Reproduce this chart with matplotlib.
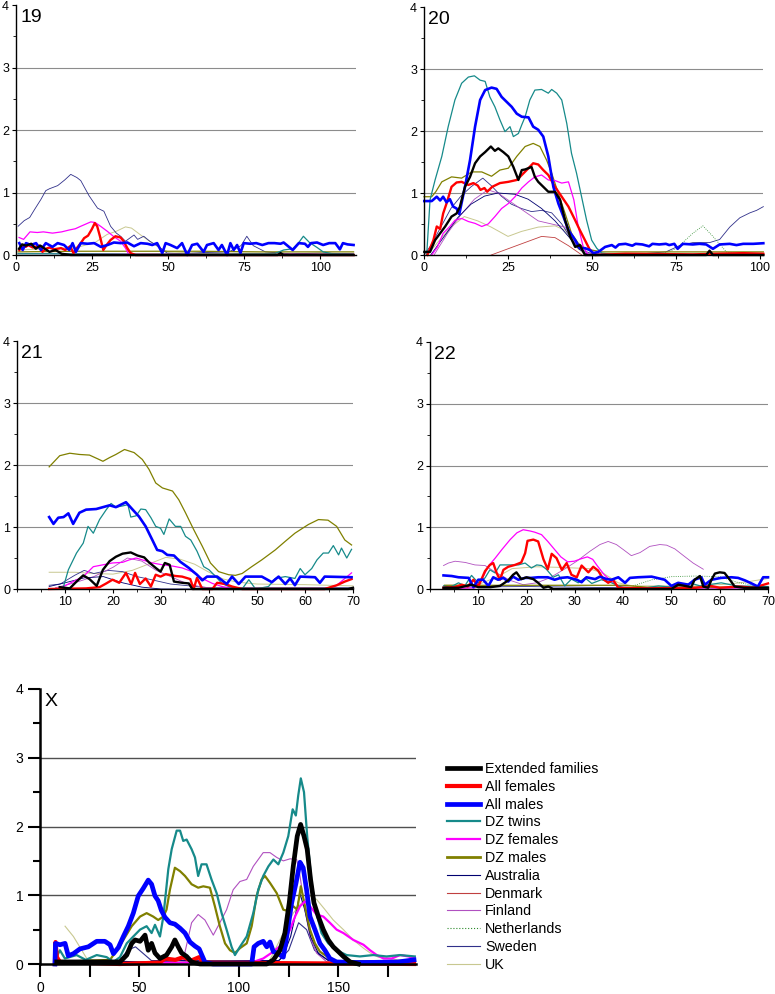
import numpy as np
import matplotlib
matplotlib.use("Agg")
import matplotlib.pyplot as plt
from matplotlib.lines import Line2D
from matplotlib.ticker import MultipleLocator

plt.rcParams['font.family'] = ['Liberation Sans', 'DejaVu Sans']

# legend order / series names
series_names = ["Extended families", "All females", "All males", "DZ twins", "DZ females",
                "DZ males", "Australia", "Denmark", "Finland", "Netherlands", "Sweden", "UK"]

# ---------------- chromosome 19 ----------------
sweden19 = [(0.7,0.46),(2.7,0.55),(4.5,0.6),(6.0,0.72),(8.2,0.89),(9.8,1.03),(11,1.06),(13.7,1.11),(16,1.2),
            (18,1.29),(20,1.24),(21.3,1.19),(24,0.95),(26.8,0.75),(28.9,0.7),(31.1,0.46),(33,0.35),(34.4,0.3),
            (36,0.22),(38.8,0.32),(40,0.25),(42,0.3),(44,0.22),(46.4,0.15),(49.7,0.03),(55,0.02),(62,0.04),
            (70,0.05),(74,0.15),(75.9,0.3),(78,0.15),(82,0.05),(90,0.02),(100,0.03),(111,0.02)]
magenta19 = [(1,0.28),(2.5,0.25),(4.6,0.37),(7,0.36),(9,0.37),(12,0.35),(15,0.37),(17.5,0.4),(19.5,0.42),
             (21.3,0.46),(24.6,0.53),(26,0.52),(27.8,0.46),(30,0.38),(32,0.3),(34.4,0.22),(36,0.11),(37.2,0.0),(111,0.0)]
red19 = [(1.1,0.08),(2.2,0.14),(3.2,0.13),(4.0,0.16),(5.5,0.12),(7.7,0.15),(8.7,0.05),(9.8,0.1),(11.0,0.12),
         (12.5,0.09),(14.8,0.11),(16.2,0.08),(17.8,0.14),(18.9,0.03),(20,0.11),(21.3,0.19),(22.4,0.27),(23.7,0.31),
         (24.9,0.41),(25.9,0.51),(26.7,0.46),(27.6,0.3),(28.7,0.08),(29.8,0.16),(31.1,0.24),(32.7,0.3),(34.4,0.28),
         (35.4,0.22),(36.6,0.11),(37.7,0.03),(39.3,0.0),(111,0.0)]
blue19 = [(1.1,0.19),(2.2,0.08),(3.3,0.19),(4.9,0.16),(6.6,0.19),(8.2,0.08),(9.8,0.19),(12.0,0.13),(13.7,0.19),
          (15.8,0.16),(17.5,0.08),(18.6,0.19),(19.7,0.05),(21.3,0.19),(23.5,0.18),(25.7,0.19),(27.9,0.13),(30.1,0.16),
          (32.2,0.2),(34.4,0.19),(36.6,0.2),(38.8,0.14),(41.0,0.19),(43.2,0.18),(44.8,0.16),(46.4,0.19),(48.1,0.03),
          (49.2,0.19),(50.8,0.16),(53.0,0.11),(54.6,0.19),(56.3,0.0),(57.9,0.16),(59.6,0.18),(61.7,0.05),(62.8,0.16),
          (65.0,0.19),(66.6,0.08),(67.7,0.16),(69.4,0.0),(70.5,0.19),(71.6,0.08),(72.7,0.16),(73.8,0.03),(74.9,0.19),
          (77,0.18),(79,0.19),(81,0.16),(83,0.19),(85,0.19),(87,0.18),(88,0.2),(89,0.16),(91,0.08),(93,0.19),
          (95,0.18),(96,0.13),(97,0.19),(99,0.2),(101,0.16),(103,0.19),(105,0.19),(106.5,0.09),(107.5,0.19),
          (109,0.17),(111,0.16)]
black19 = [(1,0.1),(2,0.17),(3.3,0.15),(5,0.18),(6.5,0.1),(8,0.15),(9.5,0.1),(11,0.05),(13,0.08),(15,0.02),
           (18,0.0),(86,0.0),(87,0.03),(88,0.0),(111,0.0)]
teal19 = [(0.7,0.02),(10,0.02),(40,0.01),(85,0.02),(88,0.08),(91,0.1),(93,0.2),(94.5,0.3),(96.5,0.2),(99,0.12),
          (101,0.05),(104,0.02),(111,0.01)]
uk19 = [(0.7,0.08),(10,0.1),(20,0.12),(26,0.2),(30,0.33),(33,0.38),(36,0.45),(38,0.43),(41,0.32),(44,0.22),
        (47,0.12),(50,0.05),(60,0.03),(111,0.02)]
olive19 = [(0.7,0.05),(20,0.06),(40,0.06),(60,0.06),(80,0.05),(111,0.05)]
finland19 = [(0.7,0.02),(30,0.02),(111,0.01)]

# ---------------- chromosome 20 ----------------
teal20 = [(0.8,0.0),(1.8,0.89),(3.3,1.21),(5.3,1.59),(7.2,2.07),(9.2,2.5),(11.2,2.77),(13.2,2.87),(15.0,2.89),
          (16.7,2.82),(18.2,2.8),(19.6,2.55),(21.1,2.39),(22.6,2.18),(24.1,1.99),(25.6,2.07),(26.6,1.91),(28.1,1.96),
          (29.1,2.1),(30.1,2.23),(31.5,2.5),(33.0,2.66),(35.0,2.67),(37.0,2.61),(38.0,2.67),(39.5,2.61),(41.0,2.5),
          (42.5,2.12),(43.9,1.64),(45.4,1.32),(46.9,0.94),(48.4,0.56),(49.9,0.24),(51.4,0.11),(52.9,0.03),(58,0.0),(101,0.0)]
blue20 = [(0.1,0.87),(2.3,0.87),(3.8,0.94),(4.8,0.88),(5.7,0.94),(6.7,0.85),(7.7,0.9),(8.7,0.78),(9.7,0.75),
          (10.5,0.66),(12.2,1.1),(13.7,1.53),(15.2,2.07),(16.7,2.5),(18.2,2.66),(20.1,2.7),(21.6,2.68),(23.1,2.55),
          (24.6,2.47),(26.1,2.39),(27.6,2.28),(29.1,2.23),(31.1,2.22),(32.5,2.07),(34.0,2.02),(35.5,1.91),(37.0,1.59),
          (38.5,1.1),(40.0,0.83),(41.5,0.62),(43.0,0.4),(45.0,0.24),(46.4,0.11),(47.9,0.11),(49.4,0.08),(50.4,0.03),
          (51.9,0.05),(53.9,0.13),(55.9,0.16),(57,0.12),(58,0.17),(60,0.18),(62,0.15),(63,0.18),(65,0.17),(67,0.14),
          (68,0.18),(70,0.17),(72,0.18),(73,0.16),(74.5,0.18),(75.5,0.1),(77,0.18),(80,0.17),(82,0.18),(84,0.17),
          (86,0.1),(88,0.17),(91,0.18),(93,0.16),(95,0.18),(98,0.18),(101,0.19)]
black20 = [(0.1,0.05),(1.8,0.05),(3.3,0.24),(4.8,0.35),(6.3,0.46),(8.2,0.62),(9.7,0.67),(10.7,0.78),(12.2,1.1),
           (13.7,1.26),(15.2,1.48),(16.7,1.59),(18.2,1.66),(19.9,1.75),(21.1,1.68),(22.1,1.72),(23.6,1.66),(25.1,1.59),
           (26.6,1.42),(28.1,1.21),(29.1,1.37),(30.1,1.38),(32.0,1.42),(33.0,1.26),(34.0,1.18),(35.5,1.1),(37.0,1.02),
           (39.0,1.02),(40.5,0.89),(42.0,0.56),(43.5,0.3),(45.0,0.13),(46.4,0.16),(47.9,0.0),(84,0.0),(85,0.07),
           (86,0.0),(101,0.0)]
red20 = [(1.0,0.0),(2.8,0.24),(3.8,0.46),(4.8,0.42),(5.7,0.67),(6.7,0.83),(8.2,1.1),(9.7,1.17),(11.2,1.18),
         (13.2,1.13),(14.7,1.16),(16.0,1.12),(16.8,1.05),(18.0,1.08),(18.8,1.02),(20.3,1.1),(22.6,1.16),(25.1,1.18),
         (27.6,1.21),(29.1,1.29),(31.1,1.4),(32.5,1.48),(34.0,1.46),(35.5,1.37),(37.0,1.29),(39.0,1.1),(41.0,0.94),
         (43.0,0.78),(45.0,0.56),(46.4,0.4),(47.9,0.24),(49.4,0.08),(50.9,0.0),(60,0.02),(80,0.01),(95,0.03),(101,0.02)]
olive20 = [(0,0.94),(2.3,0.94),(3.5,1.02),(5.3,1.18),(8.2,1.26),(11.2,1.24),(14.2,1.34),(17.2,1.34),(20.1,1.27),
           (22.6,1.37),(25.1,1.4),(27.6,1.59),(30.1,1.75),(32.5,1.8),(34.5,1.75),(36.5,1.53),(38.0,1.32),(40.0,0.99),
           (42.0,0.67),(43.9,0.35),(45.9,0.19),(47.9,0.11),(49.9,0.08),(52.9,0.05),(101,0.05)]
magenta20 = [(2.3,0.0),(4.0,0.13),(5.7,0.35),(7.7,0.46),(9.2,0.56),(11.2,0.59),(13.2,0.54),(15.2,0.51),(17.2,0.46),
             (19.1,0.5),(21.1,0.62),(23.1,0.75),(25.1,0.83),(27.1,0.94),(29.1,1.08),(31.1,1.18),(33.0,1.26),(35.0,1.29),
             (37.0,1.21),(39.0,1.2),(41.0,1.16),(43.0,1.18),(44.6,0.89),(45.9,0.46),(47.4,0.13),(48.9,0.0),(101,0.0)]
sweden20 = [(0,0.0),(2,0.15),(5,0.45),(8,0.75),(11,0.95),(14,1.1),(17.5,1.24),(20,1.12),(23,0.95),(26,0.82),
            (29,0.75),(32,0.7),(35,0.72),(38,0.68),(41,0.5),(44,0.25),(47,0.08),(50,0.02),(60,0.0),(72,0.05),
            (76,0.15),(80,0.2),(85,0.2),(88,0.25),(91,0.45),(94,0.6),(97,0.68),(99,0.72),(101,0.78)]
australia20 = [(2,0.0),(6,0.3),(10,0.6),(14,0.82),(18,0.95),(22,1.0),(27,0.98),(31,0.9),(35,0.75),(39,0.55),
               (43,0.3),(46,0.1),(49,0.0),(101,0.0)]
finland20 = [(3,0.0),(7,0.35),(11,0.65),(15,0.9),(19,1.05),(22,1.0),(26,0.85),(30,0.7),(34,0.55),(38,0.5),
             (42,0.45),(45,0.2),(48,0.02),(101,0.0)]
uk20 = [(1,0.0),(4,0.2),(8,0.45),(12,0.62),(16,0.55),(20,0.45),(25,0.3),(29,0.38),(34,0.45),(39,0.47),(42,0.4),
        (45,0.15),(48,0.0),(101,0.0)]
denmark20 = [(20,0.0),(25,0.1),(30,0.2),(35,0.3),(39,0.28),(43,0.15),(47,0.0)]
netherlands20 = [(70,0.0),(75,0.1),(80,0.35),(83,0.47),(86,0.3),(90,0.05),(95,0.0)]

# ---------------- chromosome 21 ----------------
olive21 = [(6.7,1.97),(8.9,2.15),(11.0,2.19),(13.0,2.17),(15.1,2.16),(16.8,2.1),(17.9,2.06),(19.3,2.12),(20.6,2.17),
           (22.4,2.25),(24.4,2.2),(26.1,2.09),(27.5,1.93),(28.9,1.71),(30.3,1.63),(32.4,1.58),(33.7,1.44),(35.1,1.23),
           (36.8,0.96),(38.6,0.69),(40.3,0.42),(42.0,0.28),(44.1,0.23),(45.5,0.22),(46.9,0.25),(48.9,0.36),(51.0,0.47),
           (53.8,0.63),(55.9,0.77),(57.9,0.9),(60.7,1.04),(62.8,1.12),(64.8,1.11),(66.6,1.01),(68.3,0.79),(69.7,0.71)]
blue21 = [(6.7,1.16),(7.6,1.05),(8.6,1.15),(9.7,1.16),(10.7,1.22),(11.7,1.05),(13.0,1.23),(14.4,1.28),(16.5,1.29),
          (17.9,1.32),(19.3,1.35),(20.6,1.32),(22.7,1.4),(24.1,1.28),(25.4,1.17),(26.8,1.01),(28.2,0.79),(29.2,0.63),
          (30.3,0.61),(31.3,0.55),(32.7,0.54),(34.0,0.44),(35.8,0.34),(37.5,0.23),(38.6,0.14),(39.6,0.2),(41.7,0.2),
          (43.7,0.08),(44.8,0.2),(46.2,0.08),(47.6,0.2),(51.0,0.2),(53.1,0.11),(54.5,0.2),(55.9,0.08),(56.9,0.17),
          (57.9,0.06),(59.0,0.2),(62.1,0.19),(63.1,0.1),(64.1,0.2),(69.7,0.19)]
teal21 = [(9.7,0.04),(10.7,0.31),(12.4,0.58),(13.8,0.74),(14.8,1.01),(15.9,0.9),(17.2,1.12),(18.6,1.28),(19.6,1.38),
          (20.6,1.32),(22.0,1.34),(23.1,1.36),(23.7,1.16),(24.8,1.18),(25.8,1.29),(26.8,1.28),(27.9,1.15),(28.9,1.01),
          (29.9,0.98),(30.6,0.88),(31.7,1.13),(33.0,1.01),(34.1,1.01),(35.1,0.85),(36.2,0.79),(37.5,0.61),(38.9,0.36),
          (40.0,0.31),(41.4,0.2),(42.7,0.09),(44.1,0.04),(46.9,0.0),(48.3,0.15),(49.7,0.0),(52.4,0.04),(53.8,0.17),
          (55.9,0.2),(57.9,0.17),(59.0,0.33),(60.0,0.23),(61.4,0.33),(62.5,0.47),(63.8,0.58),(64.9,0.58),(65.9,0.7),
          (67.0,0.55),(67.6,0.66),(68.7,0.5),(69.7,0.64)]
black21 = [(8.9,0.03),(11.0,0.01),(12.4,0.12),(13.8,0.22),(15.1,0.16),(16.6,0.05),(17.9,0.31),(19.3,0.45),(20.6,0.52),
           (22.0,0.57),(23.7,0.59),(25.1,0.54),(26.5,0.51),(27.5,0.43),(28.9,0.34),(29.9,0.28),(30.8,0.42),(31.8,0.39),
           (32.7,0.12),(34.4,0.1),(35.8,0.09),(36.5,0.0),(69,0.0),(70,0.02)]
red21 = [(6.7,0.0),(14.4,0.01),(17.2,0.03),(18.6,0.09),(19.9,0.15),(21.3,0.1),(22.7,0.26),(23.8,0.08),(24.6,0.26),
         (25.6,0.08),(26.8,0.17),(27.9,0.04),(28.9,0.23),(29.9,0.2),(31.0,0.24),(33.0,0.21),(34.4,0.2),(36.1,0.16),
         (36.8,0.0),(37.5,0.18),(38.6,0.0),(40.7,0.0),(41.7,0.1),(43.4,0.08),(44.8,0.04),(46.9,0.0),(64.1,0.0),
         (66.6,0.06),(68.3,0.12),(69.7,0.16)]
magenta21 = [(8.3,0.0),(9.7,0.04),(11.7,0.12),(13.8,0.2),(15.9,0.36),(17.9,0.39),(19.9,0.42),(22.0,0.43),(23.4,0.47),
             (24.8,0.5),(26.1,0.47),(28.2,0.42),(30.3,0.39),(32.4,0.37),(34.4,0.34),(36.5,0.28),(38.6,0.17),(40.7,0.09),
             (42.7,0.04),(45.5,0.0),(64.1,0.0),(66.6,0.06),(68.3,0.17),(69.7,0.26)]
uk21 = [(6.7,0.27),(12,0.27),(16,0.25),(20,0.24),(24,0.3),(28,0.42),(31,0.51),(34,0.48),(37,0.4),(40,0.27),
        (43,0.16),(46,0.11),(50,0.08),(60,0.07),(70,0.05)]
sweden21 = [(6.7,0.06),(9,0.08),(12,0.22),(14,0.3),(16,0.25),(19,0.3),(22,0.28),(25,0.2),(28,0.15),(32,0.08),
            (36,0.05),(40,0.02),(70,0.02)]
finland21 = [(8,0.02),(12,0.1),(16,0.2),(20,0.35),(23,0.5),(26,0.45),(29,0.3),(32,0.2),(35,0.1),(38,0.04),(42,0.0),(70,0.0)]
australia21 = [(6.7,0.04),(10,0.1),(14,0.18),(18,0.2),(22,0.1),(26,0.03),(30,0.0),(70,0.0)]

# ---------------- chromosome 22 ----------------
magenta22 = [(2.8,0.0),(9.3,0.02),(10.7,0.15),(12.1,0.37),(13.5,0.5),(14.9,0.64),(16.6,0.8),(18.0,0.91),(19.3,0.96),
             (20.7,0.94),(21.7,0.92),(23.1,0.88),(24.4,0.77),(25.8,0.64),(27.1,0.52),(28.5,0.44),(29.9,0.45),(31.3,0.49),
             (32.6,0.52),(33.7,0.48),(34.7,0.37),(36.1,0.23),(37.4,0.14),(38.8,0.05),(40.2,0.02),(45,0.0),(70,0.0)]
red22 = [(2.8,0.02),(5.2,0.03),(6.6,0.07),(7.8,0.04),(9.0,0.15),(10.0,0.04),(11.4,0.29),(12.4,0.39),(13.1,0.42),
         (13.8,0.26),(14.5,0.15),(15.2,0.31),(16.2,0.36),(17.6,0.39),(18.9,0.43),(19.7,0.58),(20.2,0.78),(21.4,0.8),
         (22.4,0.77),(23.5,0.48),(24.4,0.32),(25.2,0.57),(26.2,0.5),(27.3,0.31),(28.3,0.42),(29.3,0.23),(30.4,0.19),
         (31.4,0.38),(32.8,0.27),(33.8,0.36),(34.8,0.3),(35.9,0.16),(36.9,0.1),(37.9,0.15),(39.0,0.02),(45,0.01),
         (55,0.02),(58.1,0.05),(60,0.02),(64,0.04),(67,0.02),(70,0.09)]
blue22 = [(2.8,0.22),(4.5,0.21),(5.9,0.19),(8.0,0.18),(9.0,0.03),(10.0,0.15),(11.0,0.15),(12.1,0.05),(13.1,0.19),
          (14.1,0.15),(15.2,0.18),(16.2,0.12),(17.2,0.2),(18.3,0.15),(19.7,0.18),(21.0,0.18),(22.4,0.19),(24.4,0.19),
          (25.8,0.15),(27.1,0.18),(28.5,0.19),(30.4,0.15),(31.4,0.11),(32.4,0.19),(34.2,0.16),(35.2,0.2),(36.6,0.16),
          (37.6,0.15),(39.0,0.19),(40.4,0.1),(41.4,0.18),(43.1,0.19),(45.9,0.2),(48.6,0.15),(50.0,0.05),(51.4,0.1),
          (53.5,0.07),(54.8,0.15),(56.2,0.19),(56.9,0.07),(58.3,0.15),(60.3,0.18),(62.4,0.19),(63.8,0.18),(65.2,0.14),
          (66.6,0.09),(67.9,0.04),(69.0,0.19),(70.0,0.19)]
teal22 = [(2.8,0.05),(4.2,0.03),(5.9,0.1),(7.2,0.05),(8.6,0.22),(10.0,0.1),(11.4,0.18),(12.4,0.31),(13.5,0.26),
          (14.5,0.39),(16.6,0.39),(18.3,0.39),(19.7,0.42),(21.0,0.34),(22.1,0.39),(23.1,0.38),(24.1,0.32),(25.5,0.19),
          (26.6,0.23),(27.9,0.05),(29.3,0.16),(30.7,0.1),(32.1,0.18),(33.5,0.09),(35.5,0.15),(37.6,0.1),(39.7,0.03),
          (44,0.01),(47.3,0.05),(50,0.03),(54.1,0.09),(56,0.05),(60.3,0.1),(63.5,0.05),(70,0.04)]
black22 = [(2.8,0.02),(5.9,0.02),(8.6,0.07),(10,0.03),(12.5,0.03),(14.5,0.05),(16.2,0.14),(17.2,0.23),(17.9,0.27),
           (18.9,0.16),(20.0,0.19),(21.4,0.16),(22.4,0.1),(23.5,0.02),(24.5,0.04),(25.5,0.0),(50,0.0),(51.4,0.07),
           (52.8,0.05),(54.1,0.03),(54.8,0.15),(55.9,0.21),(56.6,0.04),(57.6,0.02),(58.3,0.15),(59.0,0.25),(60.0,0.27),
           (61.0,0.26),(62.1,0.15),(63.1,0.04),(65,0.02),(70,0.02)]
finland22 = [(2.8,0.38),(3.8,0.42),(5.2,0.45),(7.3,0.43),(9.3,0.39),(11.4,0.38),(13.8,0.26),(16.6,0.14),(19.3,0.07),
             (22.1,0.1),(24.8,0.18),(27.6,0.31),(30.4,0.45),(33.1,0.61),(35.2,0.72),(36.9,0.77),(38.6,0.72),(40.0,0.64),
             (41.7,0.54),(43.5,0.59),(45.5,0.69),(47.6,0.72),(49.0,0.71),(50.7,0.65),(52.5,0.54),(54.5,0.42),(56.6,0.32)]
uk22 = [(3,0.06),(10,0.07),(14,0.2),(17,0.33),(22,0.36),(27,0.35),(33,0.33),(36,0.25),(39,0.1),(42,0.05),(55,0.05),
        (62,0.08),(66,0.12),(70,0.17)]
netherlands22 = [(42,0.05),(46,0.15),(50,0.2),(55,0.21),(60,0.2),(64,0.1),(68,0.05)]
olive22 = [(3,0.06),(40,0.06),(45,0.03),(70,0.03)]
sweden22 = [(3,0.03),(20,0.04),(40,0.02),(70,0.02)]

# ---------------- chromosome X ----------------
teal_x = [(7.6,0.06),(10.0,0.2),(12.5,0.08),(18.4,0.13),(23,0.06),(28.5,0.13),(33.5,0.1),(36.9,0.03),(40.2,0.1),
          (43.6,0.3),(46.9,0.4),(50.3,0.5),(53.6,0.55),(56.1,0.45),(57.8,0.57),(60.3,0.4),(62.0,0.69),(64.5,1.38),
          (66.2,1.67),(68.7,1.94),(70.4,1.94),(72.0,1.79),(73.7,1.81),(76.2,1.67),(77.9,1.55),(79.5,1.28),(81.2,1.45),
          (83.7,1.45),(86.2,1.23),(88.8,1.03),(91.3,0.74),(93.8,0.5),(96.3,0.25),(98.0,0.13),(100.5,0.25),(103.9,0.4),
          (107.2,0.74),(109.7,1.08),(112.2,1.28),(114.8,1.42),(117.3,1.52),(119.8,1.45),(122.3,1.62),(124.8,1.86),
          (127.0,2.25),(128.6,2.16),(129.8,2.45),(131.1,2.7),(132.7,2.5),(134.3,1.86),(136.5,1.18),(139.0,0.74),
          (141.5,0.45),(144.9,0.3),(149.1,0.2),(154.1,0.13),(160.8,0.11),(167.5,0.13),(174.2,0.11),(180.9,0.13),
          (188.4,0.11)]
blue_x = [(7.5,0.0),(7.8,0.3),(10,0.28),(12.6,0.3),(14.2,0.12),(16.8,0.15),(20.1,0.22),(24.3,0.25),(28.5,0.33),
          (32.6,0.33),(35.2,0.28),(36.9,0.15),(39.4,0.24),(41.9,0.4),(44.4,0.55),(46.9,0.74),(49.4,0.99),(51.9,1.1),
          (54.4,1.22),(56.1,1.16),(57.8,0.99),(59.4,0.92),(61,0.78),(62.8,0.68),(65.3,0.6),(67.8,0.58),(70.4,0.52),
          (72.9,0.45),(75.4,0.32),(77.9,0.26),(80,0.22),(81.5,0.12),(83,0.02),(87,0.0),(106.4,0.0),(107.6,0.25),
          (109.7,0.3),(112.2,0.33),(114.0,0.25),(115.6,0.32),(117.3,0.18),(119.8,0.15),(122.3,0.1),(124.0,0.4),
          (126.5,0.89),(128.7,1.18),(130.7,1.48),(132.3,1.4),(134.0,1.08),(135.7,0.69),(138.2,0.5),(140.7,0.3),
          (143.2,0.2),(145.7,0.08),(149.1,0.03),(160,0.02),(180,0.03),(188,0.06)]
black_x = [(8.4,0.03),(40.2,0.03),(43.6,0.13),(46.1,0.3),(47.8,0.35),(50.3,0.33),(52.8,0.42),(54.4,0.2),(56.1,0.3),
           (57.8,0.16),(60.3,0.08),(63.6,0.13),(66.2,0.25),(67.8,0.35),(69.5,0.25),(71.2,0.16),(73.7,0.11),(76.2,0.03),
           (80.4,0.0),(114,0.0),(117.3,0.06),(120.6,0.2),(123.1,0.45),(125.3,0.89),(127.3,1.42),(129.3,1.86),
           (131.0,2.03),(132.7,1.86),(134.3,1.67),(136.0,1.23),(137.7,0.89),(139.9,0.69),(142.4,0.5),(144.9,0.35),
           (147.4,0.25),(150.0,0.18),(152.5,0.11),(155.9,0.03),(160,0.0)]
olive_x = [(7.6,0.03),(35.2,0.06),(38.6,0.2),(41.9,0.35),(46.1,0.55),(50.3,0.69),(53.6,0.74),(56.9,0.69),(59.4,0.64),
           (62.0,0.69),(63.6,0.79),(65.3,1.08),(67.8,1.4),(70.4,1.35),(72.9,1.28),(76.2,1.16),(79.5,1.11),(82.1,1.13),
           (85.4,1.11),(87.9,0.84),(90.4,0.55),(93.0,0.3),(95.5,0.2),(98.0,0.16),(100.5,0.23),(103.9,0.3),(106.4,0.55),
           (108.9,0.99),(111.4,1.23),(113.1,1.28),(115.6,1.18),(119.0,1.03),(122.3,0.79),(124.8,0.77),(127.3,0.84),
           (129.3,0.79),(131.1,1.13),(133.2,0.84),(135.7,0.5),(138.2,0.3),(140.7,0.18),(144.2,0.11),(147.4,0.03),(188,0.03)]
magenta_x = [(7.6,0.0),(107.2,0.03),(112.2,0.08),(117.3,0.18),(122.3,0.3),(125.7,0.5),(128.2,0.69),(130.7,0.84),
             (133.2,0.91),(135.7,0.84),(139.0,0.72),(142.4,0.69),(145.7,0.6),(149.1,0.5),(152.5,0.45),(157.5,0.35),
             (162.6,0.28),(165.9,0.2),(169.3,0.13),(172.7,0.08),(176.8,0.08),(181,0.13),(185.2,0.11),(188.4,0.08)]
finland_x = [(8,0.02),(60,0.02),(72,0.06),(76.2,0.6),(79.5,0.72),(82.9,0.64),(87.1,0.42),(90.4,0.6),(93.8,0.79),
             (97.1,1.08),(100.5,1.2),(103.9,1.23),(107.2,1.42),(112.2,1.62),(115.6,1.62),(119.0,1.55),(122.3,1.5),
             (125.7,1.53),(129.0,1.52),(130.7,1.28),(133.2,0.79),(135.7,0.4),(139.0,0.16),(144.2,0.03),(188,0.02)]
uk_x = [(12.6,0.55),(16.8,0.4),(21,0.2),(23.5,0.08),(30,0.03),(115,0.03),(117.3,0.16),(122.3,0.45),(127.3,0.74),
        (131.5,0.89),(135.7,0.99),(139,0.94),(143,0.8),(147.4,0.64),(152.5,0.5),(157.5,0.35),(162.6,0.23),
        (166,0.16),(170,0.1),(180,0.06),(188,0.05)]
australia_x = [(8,0.03),(30,0.05),(50,0.03),(70,0.05),(90,0.03),(110,0.05),(120,0.05),(122,0.1),(126,0.4),
               (130.7,1.02),(133,0.8),(136,0.4),(140,0.15),(145,0.05),(160,0.03),(188,0.04)]
sweden_x = [(8,0.05),(40,0.05),(44,0.2),(48,0.25),(52,0.15),(56,0.05),(120,0.05),(125,0.2),(130,0.6),(134,0.5),
            (138,0.2),(145,0.05),(188,0.05)]
red_x = [(7.5,0.0),(7.8,0.32),(8.5,0.1),(10,0.03),(40,0.0),(60,0.02),(63,0.08),(68,0.06),(72,0.1),(76,0.05),
         (80,0.1),(82,0.02),(188,0.0)]

# colours for the legend order
colors = {"Extended families": "#000000", "All females": "#ff0000", "All males": "#0000ff",
          "DZ twins": "#168a8a", "DZ females": "#ff00ff", "DZ males": "#808000",
          "Australia": "#000070", "Denmark": "#c04040", "Finland": "#b050c0",
          "Netherlands": "#2a8a2a", "Sweden": "#30308a", "UK": "#c8c890"}
width_small = {"Extended families": 1.7, "All females": 1.7, "All males": 1.9, "DZ twins": 0.9,
               "DZ females": 0.9, "DZ males": 0.9, "Australia": 0.6, "Denmark": 0.6, "Finland": 0.6,
               "Netherlands": 0.6, "Sweden": 0.6, "UK": 0.7}
width_big = {"Extended families": 3.4, "All females": 3.0, "All males": 3.4, "DZ twins": 1.6,
             "DZ females": 1.6, "DZ males": 1.6, "Australia": 0.8, "Denmark": 0.8, "Finland": 0.8,
             "Netherlands": 0.8, "Sweden": 0.8, "UK": 0.8}
draw_order = ["UK", "Sweden", "Netherlands", "Finland", "Denmark", "Australia",
              "DZ males", "DZ females", "DZ twins", "All females", "All males", "Extended families"]

panels = [
    ("19", [16/775, 1-255/994, 340/775, 250/994], 111.8,
     {"Sweden": sweden19, "DZ females": magenta19, "All females": red19, "All males": blue19,
      "Extended families": black19, "DZ twins": teal19, "UK": uk19, "DZ males": olive19, "Finland": finland19}),
    ("20", [424/775, 1-255/994, 339/775, 248/994], 100.9,
     {"DZ twins": teal20, "All males": blue20, "Extended families": black20, "All females": red20,
      "DZ males": olive20, "DZ females": magenta20, "Sweden": sweden20, "Australia": australia20,
      "Finland": finland20, "UK": uk20, "Denmark": denmark20, "Netherlands": netherlands20}),
    ("21", [17/775, 1-589/994, 336/775, 248/994], 70,
     {"DZ males": olive21, "All males": blue21, "DZ twins": teal21, "Extended families": black21,
      "All females": red21, "DZ females": magenta21, "UK": uk21, "Sweden": sweden21,
      "Finland": finland21, "Australia": australia21}),
    ("22", [430/775, 1-589/994, 338/775, 247/994], 70,
     {"DZ females": magenta22, "All females": red22, "All males": blue22, "DZ twins": teal22,
      "Extended families": black22, "Finland": finland22, "UK": uk22, "Netherlands": netherlands22,
      "DZ males": olive22, "Sweden": sweden22}),
    ("X", [40/775, 1-964/994, 376/775, 275/994], 189,
     {"DZ twins": teal_x, "All males": blue_x, "Extended families": black_x, "DZ males": olive_x,
      "DZ females": magenta_x, "Finland": finland_x, "UK": uk_x, "Australia": australia_x,
      "Sweden": sweden_x, "All females": red_x}),
]

fig = plt.figure(figsize=(7.75, 9.94), dpi=100)

for name, rect, xmax, data in panels:
    ax = fig.add_axes(rect)
    big = name == "X"
    widths = width_big if big else width_small
    for y in [1, 2, 3]:
        ax.axhline(y, color="#505050" if big else "#8c8c8c", lw=1.0 if big else 0.8, zorder=0)
    for s in draw_order:
        if s not in data:
            continue
        pts = np.array(data[s])
        ls = ":" if s == "Netherlands" else "-"
        ax.plot(pts[:, 0], pts[:, 1], color=colors[s], lw=widths[s], ls=ls, clip_on=False,
                solid_joinstyle="round")
    ax.set_xlim(0, xmax)
    ax.set_ylim(0, 4)
    for sp in ["top", "right"]:
        ax.spines[sp].set_visible(False)
    spw = 1.8 if big else 1.0
    ax.spines["left"].set_linewidth(spw)
    ax.spines["bottom"].set_linewidth(spw)
    ax.yaxis.set_major_locator(MultipleLocator(1))
    ax.yaxis.set_minor_locator(MultipleLocator(0.5))
    if name in ("19", "20"):
        ax.xaxis.set_major_locator(MultipleLocator(25))
        ax.xaxis.set_minor_locator(MultipleLocator(12.5))
    elif name in ("21", "22"):
        ax.set_xticks([10, 20, 30, 40, 50, 60, 70])
        ax.xaxis.set_minor_locator(MultipleLocator(5))
    else:
        ax.set_xticks([0, 50, 100, 150])
        ax.set_xticks([25, 75, 125, 175], minor=True)
    if big:
        ax.tick_params(which="major", length=9, width=1.5, labelsize=10, pad=3)
        ax.tick_params(which="minor", length=9, width=1.5)
        ax.tick_params(axis="y", which="minor", length=5)
    else:
        ax.tick_params(which="major", length=3, width=0.8, labelsize=9, pad=2)
        ax.tick_params(which="minor", length=2, width=0.6)
    ax.text(0.012, 0.985, name, transform=ax.transAxes, fontsize=14, va="top", ha="left")

handles = []
for s in series_names:
    handles.append(Line2D([], [], color=colors[s], lw=width_big[s] if s not in ("DZ males",) else 2.0,
                          ls=":" if s == "Netherlands" else "-"))
fig.legend(handles, series_names, loc="upper left", bbox_to_anchor=(447/775, 1-762/994),
           frameon=False, fontsize=10.3, handlelength=2.3, handletextpad=0.35,
           labelspacing=0.265, borderpad=0, borderaxespad=0)

fig.savefig("out.png", dpi=100)
